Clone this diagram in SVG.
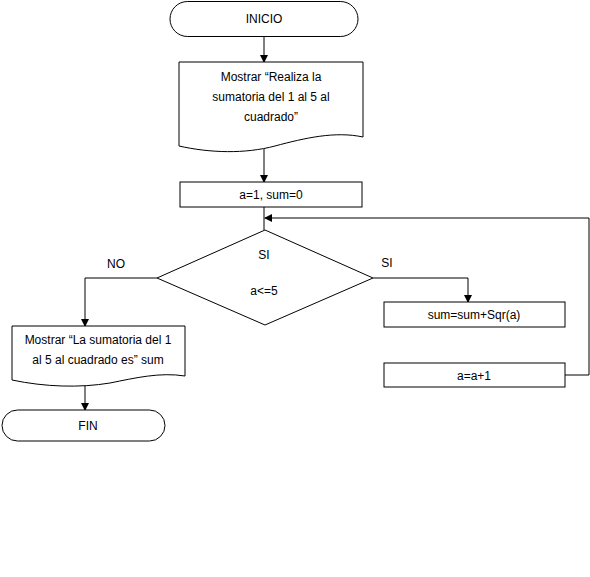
<svg xmlns="http://www.w3.org/2000/svg" width="590" height="577" viewBox="0 0 590 577">
<style>
.s{fill:#fff;stroke:#000;stroke-width:1}
.c{fill:none;stroke:#000;stroke-width:1}
text{font-family:"Liberation Sans",Arial,sans-serif;font-size:12px;fill:#000;text-anchor:middle}
</style>
<defs>
<marker id="ah" markerWidth="8" markerHeight="8" refX="7" refY="4" orient="auto" markerUnits="userSpaceOnUse">
<path d="M0,0 L8,4 L0,8 Z" fill="#000"/>
</marker>
</defs>
<rect width="590" height="577" fill="#fff"/>
<g id="connectors">
<path class="c" d="M264,37 V62" marker-end="url(#ah)"/>
<path class="c" d="M264,149 V182" marker-end="url(#ah)"/>
<path class="c" d="M264,207 V230"/>
<path class="c" d="M565,375 H589 V218 H265" marker-end="url(#ah)"/>
<path class="c" d="M373,278 H468 V302" marker-end="url(#ah)"/>
<path class="c" d="M157,278 H85 V326" marker-end="url(#ah)"/>
<path class="c" d="M85,384 V410" marker-end="url(#ah)"/>
<text x="116" y="268">NO</text>
<text x="387" y="267">SI</text>
</g>
<g id="inicio">
<rect class="s" x="170" y="1.5" width="188" height="35" rx="17.5"/>
<text x="264" y="23">INICIO</text>
</g>
<g id="mostrar1">
<path class="s" d="M179,62 H363 V137 C335,131 305,138 275,146 C245,154 210,153 179,146 Z"/>
<text x="271" y="81">Mostrar “Realiza la</text>
<text x="271" y="101">sumatoria del 1 al 5 al</text>
<text x="271" y="121">cuadrado”</text>
</g>
<g id="init">
<rect class="s" x="180" y="182" width="182" height="25"/>
<text x="271" y="199">a=1, sum=0</text>
</g>
<g id="decision">
<polygon class="s" points="265,230 373,278 265,325 157,278"/>
<text x="264" y="259">SI</text>
<text x="264" y="295">a&lt;=5</text>
</g>
<g id="suma">
<rect class="s" x="384" y="302" width="181" height="25"/>
<text x="474" y="319">sum=sum+Sqr(a)</text>
</g>
<g id="incremento">
<rect class="s" x="384" y="363" width="181" height="24"/>
<text x="474" y="380">a=a+1</text>
</g>
<g id="mostrar2">
<path class="s" d="M12,326 H185 V376 C160,372 135,378 110,383 C80,388 45,387 12,380 Z"/>
<text x="98" y="344">Mostrar “La sumatoria del 1</text>
<text x="98" y="364">al 5 al cuadrado es” sum</text>
</g>
<g id="fin">
<rect class="s" x="2" y="410" width="163" height="31" rx="15.5"/>
<text x="88" y="430">FIN</text>
</g>
</svg>
